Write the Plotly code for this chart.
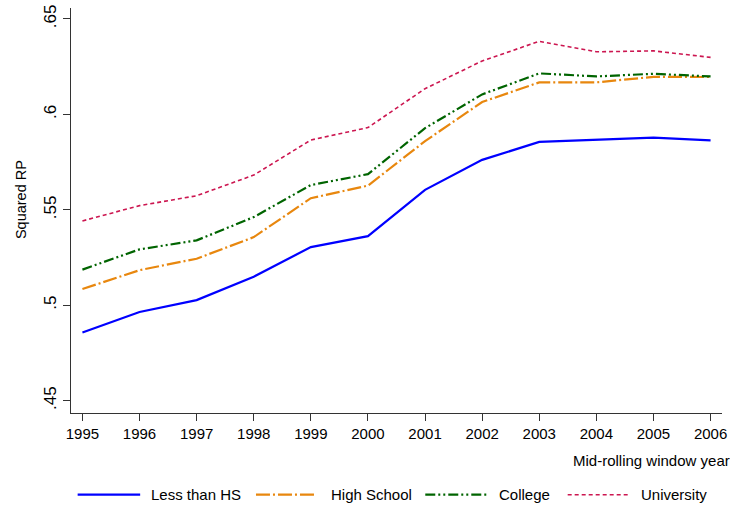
import plotly.graph_objects as go

years = [1995, 1996, 1997, 1998, 1999, 2000, 2001, 2002, 2003, 2004, 2005, 2006]
less_than_hs = [0.4857, 0.4965, 0.5027, 0.5150, 0.5305, 0.5362, 0.5605, 0.5762, 0.5856, 0.5868, 0.5878, 0.5864]
high_school = [0.5085, 0.5184, 0.5244, 0.5357, 0.5561, 0.5627, 0.5860, 0.6065, 0.6168, 0.6168, 0.6197, 0.6196]
college = [0.5187, 0.5293, 0.5340, 0.5462, 0.5630, 0.5687, 0.5928, 0.6105, 0.6215, 0.6199, 0.6213, 0.6199]
university = [0.5442, 0.5522, 0.5574, 0.5682, 0.5866, 0.5931, 0.6135, 0.6280, 0.6383, 0.6328, 0.6333, 0.6299]

series_names = ["Less than HS", "High School", "College", "University"]
series_values = [less_than_hs, high_school, college, university]
colors = ["#0000ff", "#e8870e", "#006400", "#cc1650"]
dashes = ["solid", "14px,3px,2px,3px", "10px,3px,2px,3px,2px,3px", "4px,3px"]
widths = [2.2, 2.2, 2.2, 1.6]

ytick_vals = [0.45, 0.5, 0.55, 0.6, 0.65]
ytick_text = [".45", ".5", ".55", ".6", ".65"]

FONT = "Liberation Sans, Arial, sans-serif"

fig = go.Figure()
for name, vals, c, d, w in zip(series_names, series_values, colors, dashes, widths):
    fig.add_trace(go.Scatter(x=years, y=vals, mode="lines", name=name,
                             line=dict(color=c, dash=d, width=w), showlegend=False))

fig.update_layout(
    width=730, height=508,
    margin=dict(l=71, r=3, t=8, b=95),
    paper_bgcolor="white", plot_bgcolor="white",
    font=dict(family=FONT, color="#000000"),
    xaxis=dict(range=[1994.8, 2006.2], tickvals=years, ticktext=[str(y) for y in years],
               showgrid=False, zeroline=False, showline=True, linecolor="#333333", linewidth=1,
               ticks="outside", ticklen=7, tickcolor="#333333", ticklabeloverflow="allow",
               tickfont=dict(size=15, family=FONT)),
    yaxis=dict(range=[0.44356, 0.65576], tickvals=ytick_vals, ticktext=ytick_text,
               showgrid=False, zeroline=False, showline=True, linecolor="#333333", linewidth=1,
               ticks="outside", ticklen=7, tickcolor="#333333", tickangle=-90,
               tickfont=dict(size=17, family=FONT)),
)

# axis titles
fig.add_annotation(text="Squared RP", xref="paper", yref="paper", x=(20 - 71) / 656, y=(413.3 - 200) / 405,
                   xanchor="center", yanchor="middle", textangle=-90, showarrow=False,
                   font=dict(size=14.5, family=FONT))
fig.add_annotation(text="Mid-rolling window year", xref="paper", yref="paper", x=(575 - 71) / 656,
                   y=(413.3 - 461) / 405, xanchor="left", yanchor="middle", showarrow=False,
                   font=dict(size=15, family=FONT))

# legend (manual, to match long line samples)
leg_y = (413.3 - 495) / 405
sample_x = [(77.7, 140.7), (257.4, 318), (428, 491.6), (571.5, 632.6)]
text_x = [149.5, 330.5, 500.5, 643.5]
for (x0, x1), tx, name, c, d, w in zip(sample_x, text_x, series_names, colors, dashes, widths):
    fig.add_shape(type="line", xref="paper", yref="paper", x0=(x0 - 71) / 656, x1=(x1 - 71) / 656,
                  y0=leg_y, y1=leg_y, line=dict(color=c, dash=d, width=w))
    fig.add_annotation(text=name, xref="paper", yref="paper", x=(tx - 71) / 656, y=leg_y,
                       xanchor="left", yanchor="middle", showarrow=False, font=dict(size=15, family=FONT))

fig.write_html("out.html", config={"displayModeBar": False},
               post_script="document.body.style.margin='0';document.body.style.overflow='hidden';")
